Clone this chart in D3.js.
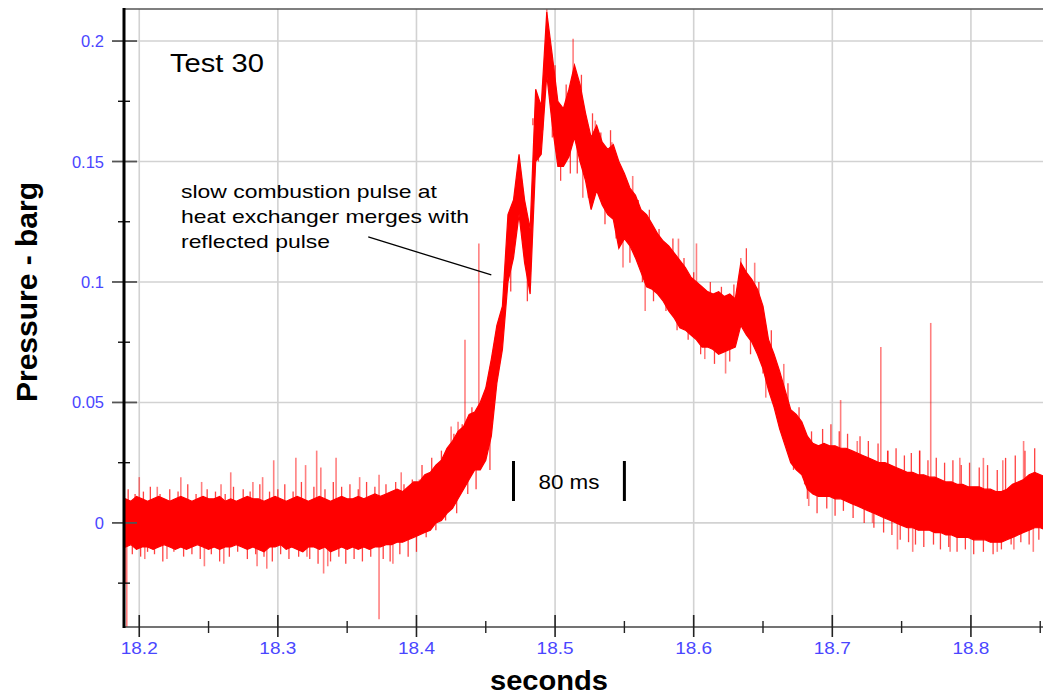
<!DOCTYPE html>
<html><head><meta charset="utf-8">
<script src="https://cdn.jsdelivr.net/npm/d3@7"></script>
<style>
html,body{margin:0;padding:0;background:#fff;}
svg{display:block;font-family:"Liberation Sans",Arial,sans-serif;}
</style></head>
<body>
<svg id="chart" width="1043" height="696"></svg>
<script>
// ---- data (pressure in mbar, min/max core envelope per 4 ms sample, starting at 18.190 s) ----
const sampleStart = 18.190;
const sampleStep = 0.004;
const hiMbar = [10,9,11,10,9,10,11,10,9,10,11,10,9,10,11,10,10,11,9,10,9,10,11,10,10,9,10,11,10,9,10,11,10,9,10,11,10,9,10,11,10,10,11,10,11,12,11,12,
  13,14,13,15,17,17,20,21,24,26,31,34,38,40,45,46,50,56,68,82,
  90,128,134,153,134,122,180,173,212,194,175,172,180,190,182,170,160,165,158,155,
  157,150,145,139,136,130,128,124,120,117,115,112,109,106,102,100,98,96,95,96,
  94,95,93,108,104,101,97,90,76,70,63,55,47,45,42,36,33,32,33,32,
  32,31,31,30,29,28,27,26,25,25,24,23,22,21,21,20,20,19,19,18,
  17,17,16,16,15,15,15,14,14,13,13,14,16,17,18,20,21,20,19];
const loMbar = [-10,-9,-11,-10,-10,-11,-10,-9,-10,-11,-10,-11,-10,-9,-10,-11,-10,-11,-10,-10,-9,-10,-11,-10,-11,-12,-10,-10,-9,-11,-10,-11,-12,-10,-10,-11,-10,-12,-11,-10,-11,-10,-11,-10,-11,-10,-10,-9,
  -9,-8,-8,-7,-6,-5,-4,-3,0,1,4,6,10,14,18,22,22,26,36,58,
  72,100,110,128,108,95,150,153,186,165,148,148,152,160,150,142,130,138,132,128,
  126,114,118,115,110,104,98,97,95,92,88,85,81,80,78,76,73,73,72,70,
  71,72,73,82,78,75,70,64,55,48,39,32,25,22,20,14,12,11,11,11,
  10,10,9,8,7,6,5,4,3,2,1,0,-1,-2,-2,-3,-3,-3,-4,-4,
  -5,-5,-6,-6,-6,-7,-7,-7,-8,-8,-8,-7,-6,-5,-4,-3,-2,-2,-3];
// isolated large spikes: [time s, mbar]
const spikes = [
  [18.190,-25],[18.191,-45],[18.200,19],[18.204,-15],[18.213,15],[18.220,-15],[18.230,19],[18.245,17],[18.247,-18],
  [18.259,16],[18.261,-17],[18.266,21],[18.282,17],[18.285,-18],[18.289,19],[18.292,-19],[18.297,26],[18.313,27],
  [18.320,24],[18.321,-14],[18.328,30],[18.331,23],[18.333,-21],[18.336,-18],[18.342,27],[18.359,19],[18.373,20],
  [18.373,-40],[18.383,-17],[18.389,21],[18.402,18],[18.425,40],[18.430,42],[18.435,76],[18.445,116],
  [18.494,214],[18.513,201],[18.520,135],[18.529,167],[18.541,158],[18.549,106],[18.556,144],[18.565,88],
  [18.589,118],[18.602,116],[18.608,68],[18.623,62],[18.634,110],[18.644,108],[18.652,52],[18.665,66],
  [18.683,7],[18.706,51],[18.718,34],[18.729,0],[18.735,73],[18.740,30],[18.747,-11],[18.758,-12],[18.763,30],
  [18.771,83],[18.785,-12],[18.792,27],[18.809,27],[18.819,-12],[18.823,26],[18.831,-11],[18.838,34],[18.845,-12]
];
// small excursions along the edges of the noise band: [time s, mbar]
const strands = [
  [18.192,14],[18.195,-13],[18.197,12],[18.201,-14],[18.203,13],[18.206,-12],[18.208,15],[18.211,-13],[18.215,12],[18.217,-16],
  [18.222,14],[18.225,-12],[18.228,13],[18.232,-14],[18.235,16],[18.238,-13],[18.241,12],[18.244,-15],[18.249,14],[18.252,-13],
  [18.255,13],[18.258,-16],[18.262,12],[18.265,-14],[18.268,15],[18.271,-12],[18.275,14],[18.278,-15],[18.280,13],[18.284,-13],
  [18.287,16],[18.290,-14],[18.294,13],[18.296,-16],[18.300,14],[18.302,-13],[18.305,16],[18.308,-15],[18.311,13],[18.315,-14],
  [18.317,17],[18.323,-15],[18.326,15],[18.329,-17],[18.334,14],[18.338,-16],[18.340,17],[18.344,-14],[18.346,15],[18.349,-17],
  [18.352,16],[18.355,-15],[18.358,14],[18.361,-16],[18.364,17],[18.367,-14],[18.370,15],[18.376,-15],[18.378,16],[18.381,-16],
  [18.385,17],[18.388,-13],[18.391,16],[18.394,-14],[18.397,18],[18.400,-12],
  [18.404,24],[18.407,-6],[18.411,27],[18.414,-3],[18.418,30],[18.421,1],[18.427,37],[18.429,4],[18.433,41],[18.437,12],
  [18.440,48],[18.443,14],[18.449,54],[18.453,22],
  [18.468,96],[18.476,138],[18.480,92],[18.484,168],[18.488,150],[18.491,182],[18.498,160],[18.500,190],[18.504,142],[18.508,182],
  [18.511,145],[18.516,145],[18.519,186],[18.524,135],[18.527,170],[18.533,162],[18.536,124],[18.540,163],[18.544,118],[18.552,142],
  [18.554,108],[18.560,134],[18.563,100],[18.568,130],[18.571,92],[18.575,122],[18.580,88],[18.585,118],[18.588,80],[18.593,110],
  [18.596,76],[18.600,104],[18.605,70],[18.612,100],[18.615,66],[18.620,98],[18.626,67],[18.629,99],[18.638,114],[18.641,70],
  [18.647,100],[18.650,62],[18.656,80],[18.660,45],[18.668,58],[18.672,22],[18.676,48],[18.680,16],
  [18.679,40],[18.682,10],[18.685,38],[18.689,4],[18.693,39],[18.696,6],[18.699,41],[18.702,3],[18.705,38],[18.708,5],
  [18.711,37],[18.715,2],[18.720,36],[18.723,0],[18.726,34],[18.730,-2],[18.733,33],[18.737,-4],[18.740,30],[18.743,-5],
  [18.746,31],[18.749,-7],[18.752,28],[18.755,-8],[18.757,29],[18.760,-9],[18.763,30],[18.766,-10],[18.769,26],[18.773,-9],
  [18.775,27],[18.778,-11],[18.781,25],[18.784,-10],[18.787,26],[18.790,-12],[18.793,24],[18.796,-11],[18.799,25],[18.802,-13],
  [18.806,23],[18.809,-12],[18.812,24],[18.816,-13],[18.819,22],[18.822,-11],[18.825,27],[18.829,-9],[18.832,28],[18.836,-8],
  [18.839,30],[18.842,-9],[18.846,31],[18.849,-7]
];
const xMajorTicks = [18.2,18.3,18.4,18.5,18.6,18.7,18.8];
const xTickLabels = ["18.2","18.3","18.4","18.5","18.6","18.7","18.8"];
const xMinorTicks = [18.25,18.35,18.45,18.55,18.65,18.75,18.85];
const yMajorTicks = [0,0.05,0.1,0.15,0.2];
const yTickLabels = ["0","0.05","0.1","0.15","0.2"];
const yMinorTicks = [-0.025,0.025,0.075,0.125,0.175];
const scaleBar = [18.47,18.55];   // 80 ms marker

// ---- layout ----
const svg = d3.select("#chart");
const L = 124, R = 1043, T = 9, B = 627;
const x = d3.scaleLinear().domain([18.189, 18.852]).range([L, R]);
const y = d3.scaleLinear().domain([-0.0432, 0.2133]).range([B, T]);
const blue = "#4a46ff";

svg.append("defs").append("clipPath").attr("id","clip")
  .append("rect").attr("x",L).attr("y",T).attr("width",R-L).attr("height",B-T);

// grid
const grid = svg.append("g").attr("stroke","#d2d2d2").attr("stroke-width",1.6);
grid.selectAll(".gx").data(xMajorTicks).join("line")
  .attr("x1",d=>x(d)).attr("x2",d=>x(d)).attr("y1",T).attr("y2",B);
grid.selectAll(".gy").data(yMajorTicks).join("line")
  .attr("x1",L).attr("x2",R).attr("y1",d=>y(d)).attr("y2",d=>y(d));

// data
const series = hiMbar.map((h,i)=>({t: sampleStart + i*sampleStep, hi: h/1000, lo: loMbar[i]/1000}));
const plot = svg.append("g").attr("clip-path","url(#clip)");
function midAt(t){
  let i = Math.round((t - sampleStart)/sampleStep);
  i = Math.max(0, Math.min(series.length-1, i));
  return (series[i].hi + series[i].lo)/2;
}
plot.selectAll(".str").data(strands).join("line")
  .attr("x1",d=>x(d[0])).attr("x2",d=>x(d[0]))
  .attr("y1",d=>y(d[1]/1000)).attr("y2",d=>y(midAt(d[0])))
  .attr("stroke","#ff0000").attr("stroke-opacity",0.75).attr("stroke-width",1.3);
const area = d3.area().x(d=>x(d.t)).y0(d=>y(d.lo)).y1(d=>y(d.hi));
plot.append("path").datum(series).attr("d",area)
  .attr("fill","#ff0000").attr("stroke","#ff0000").attr("stroke-width",1.2).attr("stroke-linejoin","miter");
plot.selectAll(".spk").data(spikes).join("line")
  .attr("x1",d=>x(d[0])).attr("x2",d=>x(d[0]))
  .attr("y1",d=>y(d[1]/1000)).attr("y2",d=>y(midAt(d[0])))
  .attr("stroke","#ff0000").attr("stroke-opacity",0.5).attr("stroke-width",1.6);

// frame / axes
svg.append("line").attr("x1",L).attr("x2",R).attr("y1",T).attr("y2",T).attr("stroke","#555").attr("stroke-width",1.6);
svg.append("line").attr("x1",L).attr("x2",R).attr("y1",B).attr("y2",B).attr("stroke","#444").attr("stroke-width",1.6);
// x ticks
svg.append("g").selectAll("line").data(xMajorTicks).join("line")
  .attr("x1",d=>x(d)).attr("x2",d=>x(d)).attr("y1",B-12).attr("y2",B+10)
  .attr("stroke","#222").attr("stroke-width",1.6);
svg.append("g").selectAll("line").data(xMinorTicks).join("line")
  .attr("x1",d=>x(d)).attr("x2",d=>x(d)).attr("y1",B-6).attr("y2",B+6)
  .attr("stroke","#222").attr("stroke-width",1.4);
svg.append("g").selectAll("text").data(xMajorTicks).join("text")
  .attr("x",d=>x(d)).attr("y",654).attr("text-anchor","middle")
  .attr("fill",blue).attr("font-size",16.5).attr("textLength",37).attr("lengthAdjust","spacingAndGlyphs")
  .text((d,i)=>xTickLabels[i]);
// y ticks
svg.append("g").selectAll("line").data(yMajorTicks).join("line")
  .attr("x1",112).attr("x2",137).attr("y1",d=>y(d)).attr("y2",d=>y(d))
  .attr("stroke","#555").attr("stroke-width",1.8);
svg.append("g").selectAll("line").data(yMinorTicks).join("line")
  .attr("x1",118).attr("x2",130).attr("y1",d=>y(d)).attr("y2",d=>y(d))
  .attr("stroke","#111").attr("stroke-width",1.4);
svg.append("line").attr("x1",L).attr("x2",L).attr("y1",T-1).attr("y2",B+1).attr("stroke","#000").attr("stroke-width",3);
svg.append("g").selectAll("text").data(yMajorTicks).join("text")
  .attr("x",104).attr("y",d=>y(d)+6).attr("text-anchor","end")
  .attr("fill",blue).attr("font-size",16.5)
  .text((d,i)=>yTickLabels[i]);

// axis titles
svg.append("text").attr("x",549).attr("y",690).attr("text-anchor","middle")
  .attr("font-size",27).attr("font-weight","bold").attr("fill","#000")
  .attr("textLength",118).attr("lengthAdjust","spacingAndGlyphs").text("seconds");
svg.append("text").attr("transform","translate(37,292) rotate(-90)").attr("text-anchor","middle")
  .attr("font-size",30).attr("font-weight","bold").attr("fill","#000")
  .attr("textLength",220).attr("lengthAdjust","spacingAndGlyphs").text("Pressure - barg");

// annotations
svg.append("text").attr("x",170).attr("y",72).attr("font-size",25).attr("fill","#000")
  .attr("textLength",94).attr("lengthAdjust","spacingAndGlyphs").text("Test 30");
const noteLines = ["slow combustion pulse at","heat exchanger merges with","reflected pulse"];
const noteWidths = [256,288,149];
svg.append("g").selectAll("text").data(noteLines).join("text")
  .attr("x",181).attr("y",(d,i)=>198+i*25).attr("font-size",18.5).attr("fill","#000")
  .attr("textLength",(d,i)=>noteWidths[i]).attr("lengthAdjust","spacingAndGlyphs").text(d=>d);
svg.append("line").attr("x1",x(18.3652)).attr("y1",y(0.1187)).attr("x2",x(18.454)).attr("y2",y(0.1029))
  .attr("stroke","#000").attr("stroke-width",1.3);

// 80 ms marker
svg.append("g").selectAll("line").data(scaleBar).join("line")
  .attr("x1",d=>x(d)).attr("x2",d=>x(d)).attr("y1",y(0.0257)).attr("y2",y(0.0091))
  .attr("stroke","#000").attr("stroke-width",3);
svg.append("text").attr("x",(x(scaleBar[0])+x(scaleBar[1]))/2).attr("y",489).attr("text-anchor","middle")
  .attr("font-size",20).attr("fill","#000").attr("textLength",61).attr("lengthAdjust","spacingAndGlyphs").text("80 ms");
</script>
</body></html>
